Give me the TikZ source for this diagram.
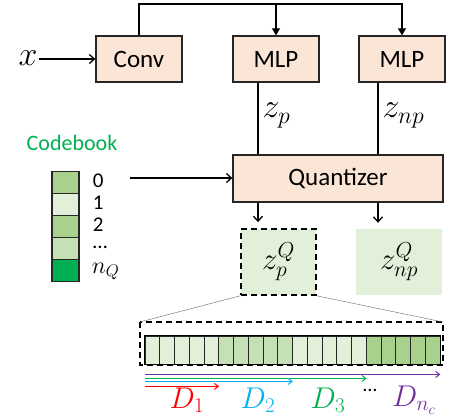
\RequirePackage{fix-cm}
\documentclass[tikz,border=0pt]{standalone}
\usepackage{fontspec}
\setsansfont{Carlito}
\usetikzlibrary{arrows.meta}

\definecolor{boxfill}{HTML}{FBE5D6}
\definecolor{gLight}{HTML}{E2F0D9}
\definecolor{gMid}{HTML}{C5E0B4}
\definecolor{gDark}{HTML}{A9D18E}
\definecolor{gDeep}{HTML}{00B050}
\definecolor{dBlue}{HTML}{00B0F0}
\definecolor{dPurple}{HTML}{7030A0}

\tikzset{
  blk/.style={draw=black!85, line width=1.3pt, fill=boxfill, minimum width=86pt,
    minimum height=46pt, inner sep=0pt, font=\sffamily\fontsize{25}{28}\selectfont},
  link/.style={line width=1.3pt},
  mathlbl/.style={font=\fontsize{34}{36}\selectfont, inner sep=1pt},
  qlbl/.style={font=\fontsize{31}{33}\selectfont, inner sep=0pt},
  cbcell/.style={draw=black!85, line width=1.3pt, minimum width=27pt, minimum height=22pt, inner sep=0pt},
  barcell/.style={draw=black!85, line width=0.8pt, minimum width=14.75pt, minimum height=28pt, inner sep=0pt},
  dlbl/.style={font=\fontsize{30}{32}\selectfont, inner sep=0pt},
  dashbox/.style={dash pattern=on 6pt off 4pt, line width=1.6pt},
}

\begin{document}
\begin{tikzpicture}[x=1pt,y=-1pt,>={Straight Barb[length=5pt,width=9pt]}]
\useasboundingbox (0,0) rectangle (457,419);

% Encoder
\node[blk] (conv) at (139,59) {Conv};
\node[blk] (mlpp) at (276,59) {MLP};
\node[blk] (mlpnp) at (402,59) {MLP};
\node[mathlbl] (x) at (28,58) {$x$};
\draw[->,link] (x.east |- conv) -- (conv.west);

% Skip connection on top
\coordinate (top) at (0,4);
\draw[line width=2.2pt] (conv.north) -- (conv.north |- top) -- (mlpp.north |- top);
\draw[link,-{Triangle[length=7pt,width=8pt]}] (mlpp.north |- top) -- (mlpp.north);
\draw[link,-{Triangle[length=7pt,width=8pt]}] (mlpp.north |- top) -| (mlpnp.north);

% Quantizer
\node[blk, minimum width=210pt, minimum height=47pt] (quant) at (338,178.5) {Quantizer};
\coordinate (pcol) at (258,0);
\coordinate (npcol) at (378,0);
\draw[link] (pcol |- mlpp.south) -- node[right, mathlbl, xshift=3pt, yshift=3pt] (zp) {$z_p$} (pcol |- quant.north);
\draw[link] (npcol |- mlpnp.south) -- node[right, mathlbl, xshift=3pt, yshift=3pt] (znp) {$z_{np}$} (npcol |- quant.north);

% Codebook
\node[text=gDeep, font=\sffamily\fontsize{22}{24}\selectfont] (cbtitle) at (72,143) {Codebook};
\foreach \c [count=\i from 0] in {gDark,gLight,gDark,gMid,gDeep}
  \node[cbcell, fill=\c] (cb\i) at (65.5,182.5+22*\i) {};
\foreach \t [count=\i from 0] in {0,1,2}
  \node[anchor=west, inner sep=0pt, font=\sffamily\fontsize{21}{22}\selectfont] (cbl\i) at ([xshift=13pt,yshift=2pt]cb\i.east) {\t};
\node[anchor=west, inner sep=0pt, font=\sffamily\fontsize{21}{22}\selectfont] (cbl3) at ([xshift=13pt,yshift=1pt]cb3.east) {\dots};
\node[anchor=west, inner sep=0pt, font=\fontsize{24}{26}\selectfont] (cbl4) at ([xshift=12pt,yshift=-1pt]cb4.east) {$n_Q$};
\coordinate (cbout) at (130,178);
\draw[->,link] (cbout) -- (cbout -| quant.west);

% Quantized outputs
\node[draw, dashbox, fill=gLight, minimum width=75pt, minimum height=66pt,
  qlbl] (zpq) at (278.5,262) {$z_p^Q$};
\node[fill=gLight, minimum width=86pt, minimum height=66pt, qlbl] (znpq) at (399,262) {$z_{np}^Q$};
\draw[->,link] (pcol |- quant.south) -- ([yshift=6pt]pcol |- zpq.north);
\draw[->,link] (npcol |- quant.south) -- ([yshift=6pt]npcol |- znpq.north);

% Zoomed code sequence
\foreach \g/\c in {0/gLight,1/gMid,2/gLight,3/gDark}
  \foreach \j in {1,...,5}{
    \pgfmathtruncatemacro\i{5*\g+\j}
    \node[barcell, fill=\c] (c\i) at (145+14.75*\i-7.375,350) {};
  }
\draw[line width=1.6pt] (c1.north west) rectangle (c20.south east);
\coordinate (zbnw) at (140,322);
\coordinate (zbse) at (443,365);
\draw[dashbox] (zbnw) rectangle (zbse);
\draw[gray!80!black, thin] (zpq.south west) -- (zbnw);
\draw[gray!80!black, thin] (zpq.south east) -- (zbse |- zbnw);

% Prefix groups
\begin{scope}[-{Straight Barb[length=4pt,width=6pt]}, line width=1pt]
\draw[dPurple] ([yshift=-10pt]c1.south west) -- ([yshift=-10pt]c20.south east);
\draw[gDeep] ([yshift=-14pt]c1.south west) -- ([yshift=-14pt]c15.south east);
\draw[dBlue] ([yshift=-17pt]c1.south west) -- ([yshift=-17pt]c10.south east);
\draw[red] ([yshift=-22pt]c1.south west) -- ([yshift=-22pt]c5.south east);
\end{scope}
\node[dlbl, text=red] (d1) at (187,400) {$D_1$};
\node[dlbl, text=dBlue] (d2) at (258,400) {$D_2$};
\node[dlbl, text=gDeep] (d3) at (328,400) {$D_3$};
\node[font=\sffamily\fontsize{20}{22}\selectfont, inner sep=0pt] (ddots) at (370,390) {\dots};
\node[dlbl, text=dPurple] (dn) at (414,400) {$D_{n_c}$};

\end{tikzpicture}
\end{document}
